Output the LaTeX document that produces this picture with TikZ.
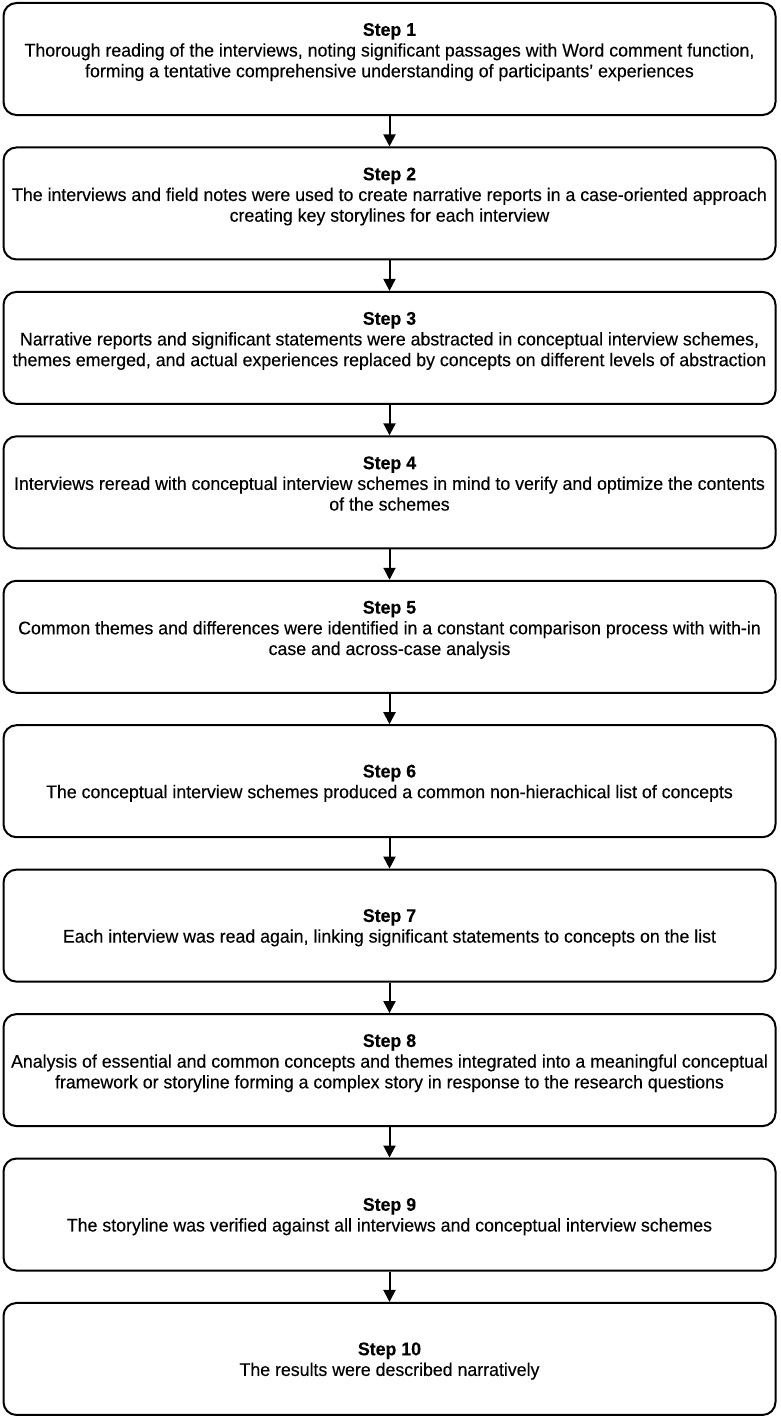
\documentclass[tikz,border=0pt]{standalone}
\usepackage{fontspec}
\setmainfont{Liberation Sans}[FakeStretch=0.97,FakeBold=0.25]
\usetikzlibrary{arrows.meta}
\newcommand\padA{\rule{0pt}{17pt}}
\newcommand\padB{\rule{0pt}{22pt}}
\begin{document}
\begin{tikzpicture}[x=1pt,y=-1pt,
  stepbox/.style={draw=black, line width=2pt, rounded corners=13pt, fill=white,
    minimum width=772pt, minimum height=112pt, inner sep=0pt, align=center,
    font=\fontsize{18.3}{20.7}\selectfont},
  flow/.style={line width=2pt, -{Triangle[length=12pt,width=12pt]}}]
\useasboundingbox (0,0) rectangle (780,1421);
\def\pitch{144.44}
\node[stepbox] (s1) at (389.5, 59) {\padB\textbf{Step 1}\\Thorough reading of the interviews, noting significant passages with Word comment function,\\forming a tentative comprehensive understanding of participants' experiences\\\strut};
\node[stepbox] (s2) at (389.5, 59+\pitch) {\padB\textbf{Step 2}\\The interviews and field notes were used to create narrative reports in a case-oriented approach\\creating key storylines for each interview\\\strut};
\node[stepbox] (s3) at (389.5, 59+2*\pitch) {\padB\textbf{Step 3}\\Narrative reports and significant statements were abstracted in conceptual interview schemes,\\themes emerged, and actual experiences replaced by concepts on different levels of abstraction\\\strut};
\node[stepbox] (s4) at (389.5, 59+3*\pitch) {\padB\textbf{Step 4}\\Interviews reread with conceptual interview schemes in mind to verify and optimize the contents\\of the schemes\\\strut};
\node[stepbox] (s5) at (389.5, 59+4*\pitch) {\padB\textbf{Step 5}\\Common themes and differences were identified in a constant comparison process with with-in\\case and across-case analysis\\\strut};
\node[stepbox] (s6) at (389.5, 59+5*\pitch) {\padA\textbf{Step 6}\\The conceptual interview schemes produced a common non-hierachical list of concepts};
\node[stepbox] (s7) at (389.5, 59+6*\pitch) {\padA\textbf{Step 7}\\Each interview was read again, linking significant statements to concepts on the list};
\node[stepbox] (s8) at (389.5, 59+7*\pitch) {\padB\textbf{Step 8}\\Analysis of essential and common concepts and themes integrated into a meaningful conceptual\\framework or storyline forming a complex story in response to the research questions\\\strut};
\node[stepbox] (s9) at (389.5, 59+8*\pitch) {\padA\textbf{Step 9}\\The storyline was verified against all interviews and conceptual interview schemes};
\node[stepbox] (s10) at (389.5, 59+9*\pitch) {\padA\textbf{Step 10}\\The results were described narratively};
\foreach \a/\b in {s1/s2,s2/s3,s3/s4,s4/s5,s5/s6,s6/s7,s7/s8,s8/s9,s9/s10}
  \draw[flow] (\a.south) -- (\b.north);
\end{tikzpicture}
\end{document}
